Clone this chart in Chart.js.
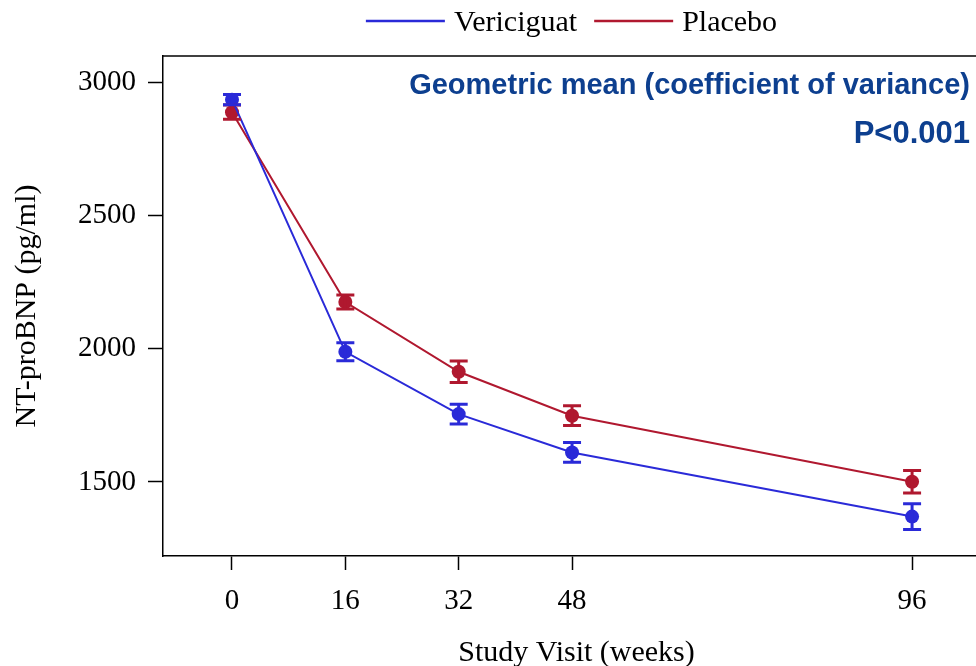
<!DOCTYPE html>
<html>
<head>
<meta charset="utf-8">
<script src="https://cdn.jsdelivr.net/npm/chart.js@4.4.0/dist/chart.umd.min.js"></script>
<style>
  html, body { margin: 0; padding: 0; background: #fff; overflow: hidden; }
  #wrap { width: 1000px; height: 666px; }
</style>
</head>
<body>
<div id="wrap"><canvas id="chart" width="1000" height="666"></canvas></div>
<script>
// data
const weeks = [0, 16, 32, 48, 96];
const xTicks = [0, 16, 32, 48, 96];
const yTicks = [1500, 2000, 2500, 3000];
const vericiguat = [2936, 1989, 1755, 1611, 1370];
const vericiguatErr = [19, 34, 37, 37, 48];
const placebo = [2889, 2176, 1914, 1749, 1501];
const placeboErr = [27, 26, 40, 37, 42];
const noteLines = ['Geometric mean (coefficient of variance)', 'P<0.001'];

const BLUE = '#2a2ad8';
const RED = '#b0182f';
const serif = 'Liberation Serif, Times New Roman, serif';

function points(vals) {
    return weeks.map((w, i) => ({ x: w, y: vals[i] }));
}

// whiskers with caps, placebo first so vericiguat sits on top
const errorBars = {
    id: 'errorBars',
    afterDatasetsDraw(chart) {
        const ctx = chart.ctx;
        const xs = chart.scales.x, ys = chart.scales.y;
        for (let i = chart.data.datasets.length - 1; i >= 0; i--) {
            const ds = chart.data.datasets[i];
            ctx.save();
            ctx.strokeStyle = ds.borderColor;
            ctx.lineWidth = 3;
            ds.data.forEach((p, j) => {
                const px = xs.getPixelForValue(p.x);
                const top = ys.getPixelForValue(p.y + ds.errors[j]);
                const bot = ys.getPixelForValue(p.y - ds.errors[j]);
                ctx.beginPath();
                ctx.moveTo(px, top); ctx.lineTo(px, bot);
                ctx.moveTo(px - 9, top); ctx.lineTo(px + 9, top);
                ctx.moveTo(px - 9, bot); ctx.lineTo(px + 9, bot);
                ctx.stroke();
            });
            ctx.restore();
        }
    }
};

const frameAndNotes = {
    id: 'frameAndNotes',
    afterDraw(chart) {
        const ctx = chart.ctx;
        const a = chart.chartArea;
        ctx.save();
        // top frame line
        ctx.strokeStyle = '#000';
        ctx.lineWidth = 1.5;
        ctx.beginPath();
        ctx.moveTo(a.left, a.top);
        ctx.lineTo(a.right, a.top);
        ctx.stroke();

        // legend
        ctx.font = '30px ' + serif;
        ctx.textBaseline = 'middle';
        ctx.textAlign = 'left';
        const lineLen = 79, gap = 9, itemGap = 17;
        const items = chart.data.datasets.map(d => ({ label: d.label, color: d.borderColor, w: ctx.measureText(d.label).width }));
        let total = 0;
        items.forEach((it, i) => { total += lineLen + gap + it.w + (i ? itemGap : 0); });
        let x = (a.left + a.right) / 2 - total / 2 - 5;
        const y = 21;
        items.forEach((it, i) => {
            if (i) x += itemGap;
            ctx.strokeStyle = it.color;
            ctx.lineWidth = 2.5;
            ctx.beginPath();
            ctx.moveTo(x, y); ctx.lineTo(x + lineLen, y);
            ctx.stroke();
            x += lineLen + gap;
            ctx.fillStyle = '#000';
            ctx.fillText(it.label, x, y + 2);
            x += it.w;
        });

        // note text top right
        ctx.fillStyle = '#0d3f8f';
        ctx.textAlign = 'right';
        ctx.font = 'bold 29px Liberation Sans, Arial, sans-serif';
        ctx.fillText(noteLines[0], 970, 86);
        ctx.font = 'bold 31px Liberation Sans, Arial, sans-serif';
        ctx.fillText(noteLines[1], 970, 134);
        ctx.restore();
    }
};

new Chart(document.getElementById('chart').getContext('2d'), {
    type: 'line',
    data: {
        datasets: [{
            label: 'Vericiguat',
            data: points(vericiguat),
            errors: vericiguatErr,
            borderColor: BLUE,
            backgroundColor: BLUE,
            borderWidth: 2,
            pointRadius: 7,
            pointBorderWidth: 0,
            tension: 0
        }, {
            label: 'Placebo',
            data: points(placebo),
            errors: placeboErr,
            borderColor: RED,
            backgroundColor: RED,
            borderWidth: 2,
            pointRadius: 7,
            pointBorderWidth: 0,
            tension: 0
        }]
    },
    options: {
        responsive: false,
        animation: false,
        devicePixelRatio: 1,
        layout: { padding: { top: 56, right: 10, left: 0, bottom: 0 } },
        plugins: {
            legend: { display: false },
            tooltip: { enabled: false }
        },
        scales: {
            x: {
                type: 'linear',
                min: -9.74,
                max: 107,
                afterBuildTicks: s => { s.ticks = xTicks.map(v => ({ value: v })); },
                afterFit: s => { s.height = 110; },
                grid: { drawOnChartArea: false, drawTicks: true, tickLength: 14, tickWidth: 1.5, tickColor: '#000' },
                border: { display: true, color: '#000', width: 1.5 },
                ticks: { color: '#000', font: { family: serif, size: 29 }, padding: 14, maxRotation: 0, autoSkip: false, callback: v => String(v) },
                title: { display: true, text: 'Study Visit (weeks)', color: '#000', font: { family: serif, size: 30, lineHeight: 0.8 }, padding: { top: 0, bottom: 1 } }
            },
            y: {
                min: 1222,
                max: 3100,
                afterBuildTicks: s => { s.ticks = yTicks.map(v => ({ value: v })); },
                afterFit: s => { s.width = 163; },
                grid: { drawOnChartArea: false, drawTicks: true, tickLength: 15, tickWidth: 1.5, tickColor: '#000' },
                border: { display: true, color: '#000', width: 1.5 },
                ticks: { color: '#000', font: { family: serif, size: 29 }, padding: 12, callback: v => String(v) },
                title: { display: true, text: 'NT-proBNP (pg/ml)', color: '#000', font: { family: serif, size: 30, lineHeight: 1.2 }, padding: { top: 9, bottom: 0 } }
            }
        }
    },
    plugins: [errorBars, frameAndNotes]
});
</script>
</body>
</html>
